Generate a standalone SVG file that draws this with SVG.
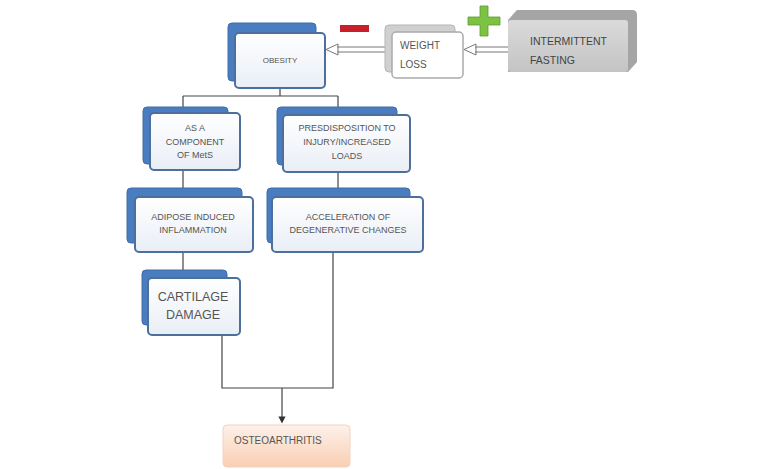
<svg xmlns="http://www.w3.org/2000/svg" width="768" height="469" viewBox="0 0 768 469">
<defs>
<linearGradient id="fg" x1="0" y1="0" x2="0" y2="1"><stop offset="0" stop-color="#ffffff"/><stop offset="1" stop-color="#e9eef6"/></linearGradient>
<linearGradient id="og" x1="0" y1="0" x2="0" y2="1"><stop offset="0" stop-color="#fdf1ea"/><stop offset="1" stop-color="#f9cfb3"/></linearGradient>
<linearGradient id="gg" x1="0" y1="0" x2="0" y2="1"><stop offset="0" stop-color="#dadada"/><stop offset="1" stop-color="#c4c4c4"/></linearGradient>
<marker id="dot" markerWidth="6" markerHeight="6" refX="3" refY="3" orient="auto"><path d="M0,0 L6,3 L0,6 z" fill="#333"/></marker>
</defs>
<style>
.back{fill:#4a7cc0;stroke:#3e6cab;stroke-width:1}
.front{fill:url(#fg);stroke:#4d6f9c;stroke-width:2}
.t{font-family:"Liberation Sans",Arial,sans-serif;font-size:9px;fill:#555;text-anchor:middle}
.l{fill:none;stroke:#444;stroke-width:1.2}
.dbl{fill:none;stroke:#777;stroke-width:1}
</style>
<rect width="768" height="469" fill="#fff"/>
<g id="connectors">
<path class="l" d="M280,88 V96 M183,96 H338 M183,96 V113 M338,96 V115"/>
<path class="l" d="M183,170 V197 M338,172 V197"/>
<path class="l" d="M183,252 V278"/>
<path class="l" d="M222,335 V388 H333 V252"/>
<path class="l" d="M282,388 V420" marker-end="url(#dot)"/>
<path class="dbl" d="M337,47 H387 M337,52 H387 M326,49.5 L338,44 L338,55 Z" fill="#fff"/>
<path class="dbl" d="M475,47 H508 M475,52 H508 M464,49.5 L476,44 L476,55 Z" fill="#fff"/>
<rect x="340" y="25" width="29" height="7" fill="#c8202a"/>
<path d="M480,6 h8 v11 h12 v8 h-12 v11 h-8 v-11 h-12 v-8 h12 z" fill="#7cc243" stroke="#5e9a30" stroke-width="0.8"/>
</g>
<g id="obesity">
<rect class="back" x="228" y="23" width="88" height="58" rx="4"/>
<rect class="front" x="235" y="33" width="90" height="55" rx="4"/>
<text class="t" x="280" y="63" style="font-size:8px">OBESITY</text>
</g>
<g id="weight-loss">
<rect x="385" y="25" width="70" height="47" rx="4" fill="#d0d0d0" stroke="#b5b5b5"/>
<rect x="392" y="32" width="71" height="46" rx="4" fill="#fff" stroke="#aaa" stroke-width="1.5"/>
<text class="t" x="400" y="49" style="text-anchor:start;font-size:10px">WEIGHT</text>
<text class="t" x="400" y="68" style="text-anchor:start;font-size:10px">LOSS</text>
</g>
<g id="intermittent-fasting">
<path d="M508,20 L517,10 L632,10 Q637,10 637,15 L637,62 L628,72 L508,72 Z" fill="#a5a5a5"/>
<rect x="508" y="20" width="120" height="52" rx="3" fill="url(#gg)"/>
<text class="t" x="530" y="45" style="text-anchor:start;fill:#444;font-size:10.5px">INTERMITTENT</text>
<text class="t" x="530" y="64" style="text-anchor:start;fill:#444;font-size:10.5px">FASTING</text>
</g>
<g id="mets">
<rect class="back" x="143" y="107" width="85" height="57" rx="4"/>
<rect class="front" x="150" y="113" width="90" height="57" rx="4"/>
<text class="t" x="195" y="131">AS A</text>
<text class="t" x="195" y="145">COMPONENT</text>
<text class="t" x="195" y="158">OF MetS</text>
</g>
<g id="predisposition">
<rect class="back" x="277" y="107" width="120" height="58" rx="4"/>
<rect class="front" x="283" y="115" width="127" height="57" rx="4"/>
<text class="t" x="347" y="131">PRESDISPOSITION TO</text>
<text class="t" x="347" y="145">INJURY/INCREASED</text>
<text class="t" x="347" y="159">LOADS</text>
</g>
<g id="adipose">
<rect class="back" x="127" y="188" width="115" height="55" rx="4"/>
<rect class="front" x="135" y="197" width="118" height="55" rx="4"/>
<text class="t" x="193" y="220">ADIPOSE INDUCED</text>
<text class="t" x="193" y="233">INFLAMMATION</text>
</g>
<g id="acceleration">
<rect class="back" x="267" y="188" width="143" height="55" rx="4"/>
<rect class="front" x="272" y="197" width="151" height="55" rx="4"/>
<text class="t" x="348" y="220">ACCELERATION OF</text>
<text class="t" x="348" y="233">DEGENERATIVE CHANGES</text>
</g>
<g id="cartilage">
<rect class="back" x="142" y="270" width="85" height="55" rx="4"/>
<rect class="front" x="148" y="278" width="92" height="57" rx="4"/>
<text class="t" x="193" y="301" style="font-size:12.5px">CARTILAGE</text>
<text class="t" x="193" y="319" style="font-size:12.5px">DAMAGE</text>
</g>
<g id="osteoarthritis">
<rect x="223" y="425" width="127" height="42" rx="4" fill="url(#og)" stroke="#f3d2bd"/>
<text class="t" x="234" y="444" style="text-anchor:start;font-size:10px">OSTEOARTHRITIS</text>
</g>
</svg>
